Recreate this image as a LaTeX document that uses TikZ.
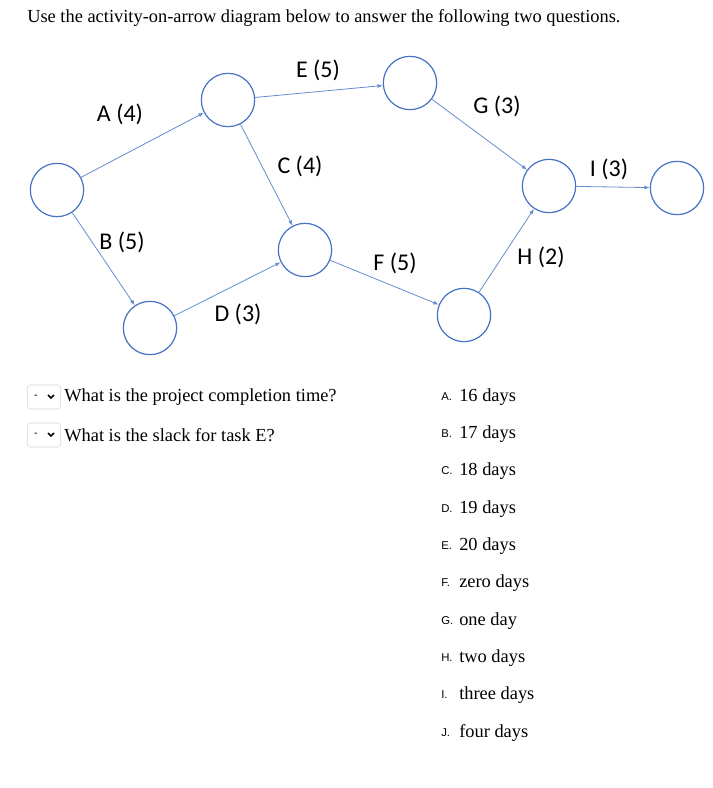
\documentclass[tikz,border=0pt]{standalone}
\usepackage{fontspec}
\setmainfont{Liberation Serif}
\newfontfamily\lblfont{Carlito}
\newfontfamily\ansfont{Liberation Sans}
\usetikzlibrary{arrows.meta}
\definecolor{evc}{RGB}{68,114,196}
\definecolor{arc}{RGB}{100,140,210}
\begin{document}
\begin{tikzpicture}[x=0.75pt,y=-0.75pt,
  ev/.style={circle,draw=evc,line width=0.9pt,minimum size=40pt,inner sep=0pt},
  act/.style={draw=arc,line width=0.6pt,-{Latex[length=4pt,width=3pt]}},
  lbl/.style={font=\lblfont\fontsize{18}{20}\selectfont,inner sep=0pt},
  txt/.style={font=\fontsize{13.8}{16}\selectfont,anchor=west,inner sep=0pt},
  let/.style={font=\ansfont\fontsize{8.5}{9}\selectfont,anchor=west,inner sep=0pt},
  dd/.style={draw=gray!35,rounded corners=2pt,minimum width=25pt,minimum height=18pt,inner sep=0pt}]
\useasboundingbox (0,0) rectangle (713,788);
\node[txt] (hd) at (27,18) {Use the activity-on-arrow diagram below to answer the following two questions.};
\node[ev] (n1) at (57,190) {};
\node[ev] (n2) at (228,100) {};
\node[ev] (n3) at (410,83) {};
\node[ev] (n4) at (549,186) {};
\node[ev] (n5) at (677,188) {};
\node[ev] (n6) at (305,250) {};
\node[ev] (n7) at (150,328) {};
\node[ev] (n8) at (464,315) {};
\draw[act] (n1) -- (n2);
\draw[act] (n1) -- (n7);
\draw[act] (n2) -- (n6);
\draw[act] (n2) -- (n3);
\draw[act] (n7) -- (n6);
\draw[act] (n3) -- (n4);
\draw[act] (n6) -- (n8);
\draw[act] (n8) -- (n4);
\draw[act] (n4) -- (n5);
\node[lbl] (lE) at (318,70) {E (5)};
\node[lbl] (lA) at (120,114) {A (4)};
\node[lbl] (lC) at (300,166) {C (4)};
\node[lbl] (lG) at (497,106) {G (3)};
\node[lbl] (lI) at (609,169) {I (3)};
\node[lbl] (lB) at (122,242) {B (5)};
\node[lbl] (lF) at (395,263) {F (5)};
\node[lbl] (lH) at (541,257) {H (2)};
\node[lbl] (lD) at (238,314) {D (3)};
\node[dd] (d1) at (44,397) {};
\node[dd] (d2) at (44,435) {};
\node[font=\ansfont\fontsize{8}{9}\selectfont] (d1a) at (36,397) {-};
\node[font=\ansfont\fontsize{8}{9}\selectfont] (d2a) at (36,435) {-};
\draw[line width=1.3pt] (48,395) -- (51,398) -- (54,395);
\draw[line width=1.3pt] (48,433) -- (51,436) -- (54,433);
\node[txt] (q1) at (64,397) {What is the project completion time?};
\node[txt] (q2) at (64,435) {What is the slack for task E?};
\foreach \l/\t/\y in {A/16 days/397,B/17 days/434,C/18 days/471,D/19 days/509,E/20 days/546,F/zero days/583,G/one day/621,H/two days/658,I/three days/695,J/four days/733}{
  \node[let] (L\l) at (441,\y) {\l.};
  \node[txt] (T\l) at (459,\y) {\t};
}
\end{tikzpicture}
\end{document}
